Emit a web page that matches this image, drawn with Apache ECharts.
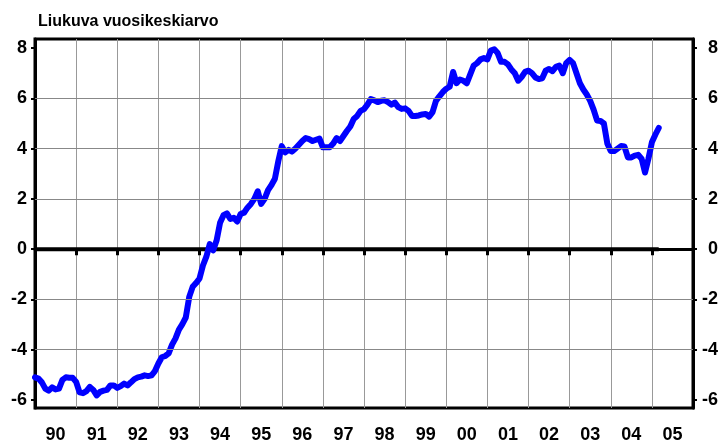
<!DOCTYPE html>
<html>
<head>
<meta charset="utf-8">
<script src="https://cdn.jsdelivr.net/npm/echarts@6.0.0/dist/echarts.min.js"></script>
<style>
  html, body { margin: 0; padding: 0; background: #fff; }
  #chart { width: 725px; height: 445px; }
</style>
</head>
<body>
<div id="chart"></div>
<script>
  // vuosiluokat x-akselille
  const years = ['90', '91', '92', '93', '94', '95', '96', '97', '98', '99', '00', '01', '02', '03', '04', '05']
  const startYear = 1990
  // y-akselin jaot ja apuviivat
  const yTicks = [-6, -4, -2, 0, 2, 4, 6, 8]
  const gridValues = [-4, -2, 2, 4, 6]
  // kuukausittaiset arvot 1990/01 -> 2005/03
  const values = [
    -5.10, -5.15, -5.30, -5.55, -5.63, -5.50, -5.58, -5.55, -5.20, -5.10, -5.12, -5.12,
    -5.28, -5.70, -5.73, -5.65, -5.48, -5.60, -5.82, -5.68, -5.63, -5.60, -5.42, -5.42,
    -5.52, -5.45, -5.35, -5.42, -5.30, -5.17, -5.10, -5.07, -5.02, -5.05, -5.02, -4.85,
    -4.55, -4.30, -4.25, -4.15, -3.80, -3.55, -3.20, -2.98, -2.72, -1.90, -1.50, -1.35,
    -1.17, -0.65, -0.30, 0.20, -0.05, 0.35, 1.05, 1.35, 1.42, 1.20, 1.25, 1.10,
    1.40, 1.45, 1.65, 1.80, 2.00, 2.30, 1.80, 2.00, 2.35, 2.55, 2.80, 3.50,
    4.10, 3.85, 3.95, 3.88, 4.00, 4.15, 4.30, 4.42, 4.38, 4.30, 4.35, 4.40,
    4.05, 4.05, 4.05, 4.20, 4.42, 4.30, 4.50, 4.70, 4.88, 5.18, 5.30, 5.50,
    5.57, 5.75, 5.97, 5.92, 5.85, 5.90, 5.92, 5.85, 5.75, 5.83, 5.65, 5.58,
    5.60, 5.50, 5.30, 5.30, 5.32, 5.36, 5.38, 5.27, 5.45, 5.90, 6.08, 6.25,
    6.38, 6.46, 7.05, 6.60, 6.75, 6.70, 6.60, 6.95, 7.30, 7.40, 7.55, 7.60,
    7.55, 7.90, 7.95, 7.80, 7.45, 7.45, 7.35, 7.15, 7.00, 6.70, 6.85, 7.05,
    7.10, 7.00, 6.83, 6.77, 6.80, 7.10, 7.17, 7.08, 7.25, 7.30, 7.00, 7.40,
    7.53, 7.40, 7.00, 6.60, 6.35, 6.15, 5.90, 5.55, 5.12, 5.10, 5.00, 4.20,
    3.90, 3.90, 4.00, 4.10, 4.08, 3.65, 3.65, 3.72, 3.75, 3.60, 3.05, 3.60,
    4.25, 4.55, 4.82
  ]

  const fontFamily = '"Liberation Sans", Arial, sans-serif'
  const lineData = values.map((v, i) => [startYear + i / 12, v])
  const zeroData = values.map((v, i) => [startYear + i / 12, 0])

  const myChart = echarts.init(document.getElementById('chart'))

  // y-akselin yhteiset asetukset (vasen ja oikea)
  function valueAxis(position, labelAlign, labelMargin) {
    return {
      type: 'value',
      position: position,
      min: -6.32,
      max: 8.36,
      axisLine: { show: true, lineStyle: { color: '#000', width: 3 } },
      axisTick: {
        show: true,
        customValues: yTicks,
        length: 4,
        lineStyle: { color: '#000', width: 2 }
      },
      axisLabel: {
        customValues: yTicks,
        color: '#000',
        fontSize: 18,
        fontWeight: 'bold',
        fontFamily: fontFamily,
        align: labelAlign,
        margin: labelMargin
      },
      splitLine: { show: false }
    }
  }

  myChart.setOption({
    animation: false,
    title: {
      text: 'Liukuva vuosikeskiarvo',
      left: 33,
      top: 9,
      textStyle: { color: '#000', fontSize: 16, fontWeight: 'bold', fontFamily: fontFamily }
    },
    grid: {
      left: 35,
      right: 32,
      top: 39,
      bottom: 37,
      show: true,
      borderColor: '#000',
      borderWidth: 3
    },
    xAxis: [
      {
        type: 'category',
        data: years,
        boundaryGap: true,
        position: 'bottom',
        axisLine: { show: true, lineStyle: { color: '#000', width: 3 } },
        axisTick: { show: true, interval: 0, length: 6, lineStyle: { color: '#000', width: 3 } },
        axisLabel: {
          interval: 0,
          color: '#000',
          fontSize: 18,
          fontWeight: 'bold',
          fontFamily: fontFamily,
          margin: 18
        },
        splitLine: { show: true, interval: 0, lineStyle: { color: '#999', width: 1 } }
      },
      {
        type: 'value',
        min: startYear,
        max: startYear + years.length,
        show: false
      }
    ],
    yAxis: [
      valueAxis('left', 'right', 8),
      valueAxis('right', 'right', 25)
    ],
    series: [
      {
        name: 'nolla',
        type: 'line',
        xAxisIndex: 1,
        yAxisIndex: 0,
        data: zeroData,
        symbol: 'none',
        z: 2,
        lineStyle: { color: '#000', width: 4 },
        markLine: {
          silent: true,
          symbol: 'none',
          label: { show: false },
          lineStyle: { color: '#888', width: 1, type: 'solid' },
          data: gridValues.map(v => ({ yAxis: v }))
        }
      },
      {
        name: 'arvo',
        type: 'line',
        xAxisIndex: 1,
        yAxisIndex: 0,
        data: lineData,
        symbol: 'none',
        z: 3,
        lineStyle: { color: '#0000ff', width: 6, join: 'round', cap: 'round' }
      }
    ]
  })
</script>
</body>
</html>
